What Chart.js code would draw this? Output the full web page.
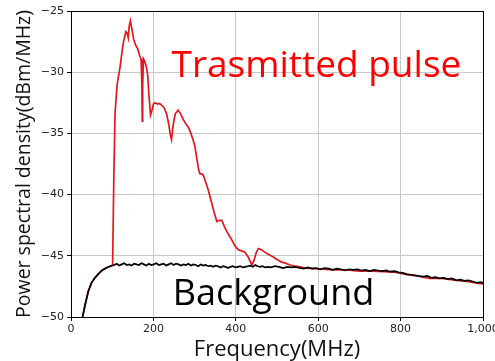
<!DOCTYPE html>
<html>
<head>
<meta charset="utf-8">
<script src="https://cdn.jsdelivr.net/npm/chart.js@4.4.0/dist/chart.umd.min.js"></script>
<style>
html,body{margin:0;padding:0;background:#fff;}
#wrap{width:495px;height:361px;position:relative;}
</style>
</head>
<body>
<div id="wrap"><canvas id="c" width="495" height="361"></canvas></div>
<script>
// Background (black) series: frequency (MHz) and PSD (dBm/MHz)
const bgFreq = [28,35,42,50,58,66,75,85,95,105,111,117,123,129,135,141,147,153,159,165,171,177,183,189,195,201,207,213,219,225,231,237,243,249,255,261,267,273,279,285,291,297,303,309,315,321,327,333,339,345,351,357,363,369,375,381,387,393,399,405,411,417,423,429,435,441,447,453,459,465,471,477,485,495,505,515,525,535,545,555,565,575,585,595,605,615,625,635,645,655,665,675,685,695,705,715,725,735,745,755,765,775,785,795,805,815,825,835,845,855,865,875,885,895,905,915,925,935,945,955,965,975,985,995,1000];
const bgPsd = [-50.0,-48.9,-47.9,-47.2,-46.8,-46.5,-46.2,-46.0,-45.85,-45.75,-45.65,-45.8,-45.7,-45.6,-45.75,-45.7,-45.8,-45.65,-45.7,-45.75,-45.6,-45.7,-45.8,-45.65,-45.75,-45.7,-45.6,-45.75,-45.7,-45.65,-45.8,-45.7,-45.6,-45.75,-45.65,-45.7,-45.8,-45.7,-45.75,-45.65,-45.8,-45.7,-45.75,-45.85,-45.7,-45.8,-45.75,-45.85,-45.8,-45.9,-45.8,-45.85,-45.95,-45.85,-45.9,-46.0,-45.9,-45.85,-45.95,-45.9,-45.85,-45.95,-45.9,-45.85,-45.8,-45.9,-45.75,-45.85,-45.9,-45.85,-45.95,-45.9,-45.95,-45.85,-45.9,-46.0,-45.9,-45.95,-45.9,-46.0,-46.05,-45.95,-46.05,-46.0,-46.1,-46.0,-46.05,-46.15,-46.05,-46.1,-46.2,-46.1,-46.15,-46.1,-46.2,-46.15,-46.25,-46.15,-46.2,-46.25,-46.2,-46.3,-46.25,-46.35,-46.4,-46.5,-46.55,-46.6,-46.65,-46.7,-46.65,-46.8,-46.75,-46.85,-46.8,-46.9,-46.85,-47.0,-46.95,-47.05,-47.0,-47.1,-47.2,-47.15,-47.25];

// Transmitted pulse (red) series
const pulseFreq = [28,35,42,50,58,66,75,85,95,101,104,107,112,119,124,127,133,136,139,141,144,148,152,157,162,167,170,172,173,174,176,179,183,186,189,193,196,200,204,210,215,220,226,232,237,241,244,248,253,260,266,273,280,285,291,297,301,306,310,313,318,322,328,333,340,347,354,360,366,372,378,385,392,398,406,414,422,430,439,444,450,455,462,470,480,491,500,510,520,532,545,555,570,590,610,640,670,700,730,760,790,815,840,870,900,930,960,990,1000];
const pulsePsd = [-50.0,-48.9,-47.9,-47.2,-46.8,-46.5,-46.2,-46.0,-45.85,-45.75,-38.5,-33.3,-31.0,-29.6,-28.3,-27.6,-26.7,-26.8,-27.2,-26.3,-25.8,-26.5,-27.3,-27.8,-28.1,-28.7,-28.9,-31.0,-34.0,-31.0,-28.9,-29.1,-29.6,-30.2,-31.8,-33.5,-33.2,-32.6,-32.5,-32.6,-32.55,-32.7,-32.9,-33.4,-34.2,-35.1,-35.5,-34.3,-33.4,-33.1,-33.4,-33.9,-34.3,-34.5,-35.0,-35.6,-36.1,-37.2,-38.0,-38.3,-38.3,-38.5,-39.1,-39.6,-40.5,-41.4,-42.2,-42.1,-42.1,-42.6,-43.0,-43.4,-43.8,-44.2,-44.5,-44.6,-44.7,-45.1,-45.75,-45.4,-44.7,-44.4,-44.5,-44.7,-44.9,-45.1,-45.3,-45.5,-45.6,-45.75,-45.85,-45.9,-46.0,-46.05,-46.1,-46.15,-46.15,-46.25,-46.25,-46.3,-46.35,-46.55,-46.65,-46.85,-46.85,-47.0,-47.1,-47.25,-47.3];

const xTicks = [0,200,400,600,800,1000];
const yTicks = [-50,-45,-40,-35,-30,-25];

// Text annotations: label, x (MHz), baseline y (dB), colour, font size
const noteLabels = ["Trasmitted pulse","Background"];
const noteX = [244,247];
const noteY = [-30.37,-49.02];
const noteColors = ["#ff0000","#000000"];
const noteSizes = [37,36];

const toXY = (xs, ys) => xs.map((x,i)=>({x:x,y:ys[i]}));

const framePlugin = {
  id:'frame',
  afterDatasetsDraw(chart){
    const {ctx, chartArea:a, scales} = chart;
    ctx.save();
    ctx.strokeStyle='#000';
    ctx.lineWidth=1;
    ctx.strokeRect(Math.round(a.left)+0.5, Math.round(a.top)+0.5, Math.round(a.right-a.left), Math.round(a.bottom-a.top));
    ctx.textBaseline='alphabetic';
    ctx.textAlign='left';
    noteLabels.forEach((t,i)=>{
      ctx.font = noteSizes[i]+'px "Open Sans"';
      ctx.fillStyle = noteColors[i];
      ctx.fillText(t, scales.x.getPixelForValue(noteX[i]), scales.y.getPixelForValue(noteY[i]));
    });
    ctx.restore();
  }
};

new Chart(document.getElementById('c'), {
  type:'line',
  data:{
    datasets:[
      {label:'Background', data:toXY(bgFreq,bgPsd), borderColor:'#000000', borderWidth:1.7, pointRadius:0, tension:0, fill:false},
      {label:'Trasmitted pulse', data:toXY(pulseFreq,pulsePsd), borderColor:'#e0191c', borderWidth:1.7, pointRadius:0, tension:0, fill:false}
    ]
  },
  options:{
    responsive:false,
    animation:false,
    events:[],
    layout:{padding:{top:11,right:12,left:0,bottom:0}},
    plugins:{legend:{display:false},tooltip:{enabled:false}},
    scales:{
      x:{
        type:'linear', min:0, max:1000,
        afterBuildTicks(s){ s.ticks = xTicks.map(v=>({value:v})); },
        afterFit(s){ s.height=44; s.paddingLeft=0; s.paddingRight=0; },
        grid:{color:'#c8c8c8', lineWidth:1, tickColor:'#000', tickLength:4, drawOnChartArea:true},
        border:{display:true,color:'#000'},
        ticks:{font:{family:'DejaVu Sans',size:11}, color:'#222', padding:2, maxRotation:0, autoSkip:false},
        title:{display:true, text:'Frequency(MHz)', font:{family:'Open Sans',size:22,lineHeight:1}, color:'#111', padding:{top:0,bottom:0}}
      },
      y:{
        type:'linear', min:-50, max:-25,
        afterBuildTicks(s){ s.ticks = yTicks.map(v=>({value:v})); },
        afterFit(s){ s.width=71; s.paddingTop=0; s.paddingBottom=0; },
        grid:{color:'#c8c8c8', lineWidth:1, tickColor:'#000', tickLength:4},
        border:{display:true,color:'#000'},
        ticks:{font:{family:'DejaVu Sans',size:11}, color:'#222', padding:3, callback:v=>String(v).replace('-','\u2212')},
        title:{display:true, text:'Power spectral density(dBm/MHz)', font:{family:'Open Sans',size:19.5,lineHeight:1}, color:'#111', padding:{top:15,bottom:0}}
      }
    }
  },
  plugins:[framePlugin]
});
</script>
</body>
</html>
